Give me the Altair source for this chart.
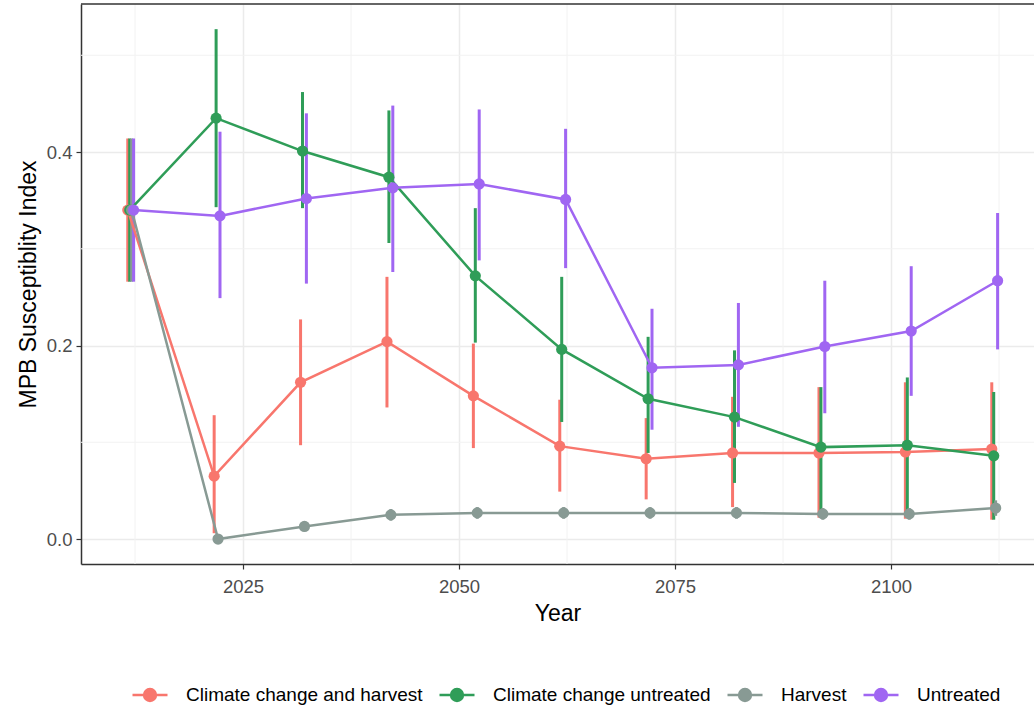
import altair as alt
import pandas as pd

# Simulation years and scenario names
years = [2012, 2022, 2032, 2042, 2052, 2062, 2072, 2082, 2092, 2102, 2112]
scenarios = ["Climate change and harvest", "Climate change untreated", "Harvest", "Untreated"]
colors = ["#F8766D", "#2F9D58", "#889A94", "#A066F2"]

# Mean MPB susceptibility index and its lower / upper bounds per scenario
cch_mean = [0.340, 0.065, 0.162, 0.204, 0.148, 0.096, 0.083, 0.089, 0.089, 0.090, 0.093]
cch_lo = [0.266, 0.006, 0.097, 0.136, 0.094, 0.049, 0.041, 0.033, 0.022, 0.021, 0.020]
cch_hi = [0.414, 0.128, 0.227, 0.271, 0.202, 0.144, 0.125, 0.147, 0.157, 0.162, 0.162]

ccu_mean = [0.340, 0.435, 0.401, 0.374, 0.272, 0.196, 0.145, 0.126, 0.095, 0.097, 0.086]
ccu_lo = [0.266, 0.343, 0.342, 0.306, 0.203, 0.121, 0.089, 0.058, 0.028, 0.023, 0.020]
ccu_hi = [0.414, 0.527, 0.462, 0.443, 0.342, 0.271, 0.209, 0.195, 0.157, 0.167, 0.152]

hv_mean = [0.340, 0.000, 0.013, 0.025, 0.027, 0.027, 0.027, 0.027, 0.026, 0.026, 0.032]
hv_lo = [0.266, 0.000, 0.008, 0.019, 0.021, 0.021, 0.021, 0.021, 0.020, 0.020, 0.024]
hv_hi = [0.414, 0.002, 0.018, 0.031, 0.033, 0.033, 0.033, 0.033, 0.032, 0.032, 0.040]

un_mean = [0.340, 0.334, 0.352, 0.363, 0.367, 0.351, 0.177, 0.180, 0.199, 0.215, 0.267]
un_lo = [0.266, 0.249, 0.264, 0.276, 0.288, 0.280, 0.113, 0.116, 0.130, 0.148, 0.196]
un_hi = [0.414, 0.421, 0.440, 0.448, 0.444, 0.424, 0.238, 0.244, 0.267, 0.282, 0.337]

# Grid positions
x_major = [2025, 2050, 2075, 2100]
x_minor = [2012.5, 2037.5, 2062.5, 2087.5, 2112.5]
y_major = [0.0, 0.2, 0.4]
y_minor = [0.1, 0.3, 0.5]

X_DOMAIN = [2006.25, 2116.55]
Y_DOMAIN = [-0.0258, 0.553]

# Dodge the scenarios slightly around each year
dodge = {scenarios[0]: -0.3375, scenarios[1]: -0.1125, scenarios[2]: 0.1125, scenarios[3]: 0.3375}

series = {
    scenarios[0]: (cch_mean, cch_lo, cch_hi),
    scenarios[1]: (ccu_mean, ccu_lo, ccu_hi),
    scenarios[2]: (hv_mean, hv_lo, hv_hi),
    scenarios[3]: (un_mean, un_lo, un_hi),
}
rows = []
for name, (m, lo, hi) in series.items():
    for yr, a, b, c in zip(years, m, lo, hi):
        rows.append({"Scenario": name, "Year": yr, "yx": yr + dodge[name],
                     "mean": a, "lo": b, "hi": c})
df = pd.DataFrame(rows)

xscale = alt.Scale(domain=X_DOMAIN, nice=False, zero=False)
yscale = alt.Scale(domain=Y_DOMAIN, nice=False, zero=False)

# Legend key: a short line with a filled dot (concentric rings fill the dot)
legend_symbol = ("M-1,0L1,0"
                 "M-0.34,0A0.34,0.34,0,1,1,0.34,0A0.34,0.34,0,1,1,-0.34,0Z"
                 "M-0.22,0A0.22,0.22,0,1,1,0.22,0A0.22,0.22,0,1,1,-0.22,0Z"
                 "M-0.1,0A0.1,0.1,0,1,1,0.1,0A0.1,0.1,0,1,1,-0.1,0Z")

color = alt.Color(
    "Scenario:N",
    scale=alt.Scale(domain=scenarios, range=colors),
    legend=alt.Legend(
        title=None, orient="none", direction="horizontal",
        legendX=50, legendY=672,
        symbolType=legend_symbol, symbolSize=1225, symbolStrokeWidth=2.5,
        labelFont="Liberation Sans", labelFontSize=19, labelColor="#000000",
        labelOffset=17, columnPadding=11, labelLimit=400,
    ),
)

base = alt.Chart(df)

minor_x = alt.Chart(pd.DataFrame({"v": x_minor})).mark_rule(
    color="#F2F2F2", strokeWidth=1
).encode(x=alt.X("v:Q", scale=xscale))
minor_y = alt.Chart(pd.DataFrame({"v": y_minor})).mark_rule(
    color="#F2F2F2", strokeWidth=1
).encode(y=alt.Y("v:Q", scale=yscale))

bars = base.mark_rule(strokeWidth=3).encode(
    x=alt.X("yx:Q", scale=xscale,
            axis=alt.Axis(values=x_major, format="d", title="Year")),
    y=alt.Y("lo:Q", scale=yscale,
            axis=alt.Axis(values=y_major, format=".1f", title="MPB Susceptiblity Index")),
    y2="hi:Q",
    color=color,
)

lines = base.mark_line(strokeWidth=2.5).encode(
    x=alt.X("yx:Q", scale=xscale),
    y=alt.Y("mean:Q", scale=yscale),
    color=color,
    detail="Scenario:N",
)

points = base.mark_circle(size=125, opacity=1).encode(
    x=alt.X("yx:Q", scale=xscale),
    y=alt.Y("mean:Q", scale=yscale),
    color=color,
)

top_border = alt.Chart(pd.DataFrame({"v": [Y_DOMAIN[1]]})).mark_rule(
    color="#333333", strokeWidth=1.5
).encode(y=alt.Y("v:Q", scale=yscale))

chart = alt.layer(minor_x, minor_y, bars, lines, points, top_border).properties(
    width=953, height=560,
    autosize=alt.AutoSizeParams(type="none"),
    padding={"left": 81, "top": 4, "right": 0, "bottom": 145},
).configure_view(stroke=None).configure_axis(
    labelFont="Liberation Sans", titleFont="Liberation Sans",
    labelColor="#4D4D4D", titleColor="#000000",
    labelFontSize=18.5, titleFontSize=23, titleFontWeight="normal",
    gridColor="#EBEBEB", gridWidth=1.5,
    domainColor="#333333", domainWidth=1.5,
    tickColor="#333333", tickWidth=1.2, tickSize=5,
).configure_axisX(
    titlePadding=7, labelPadding=8,
).configure_axisY(
    titlePadding=6, labelPadding=4,
)

chart.save("out.html", embed_options={"renderer": "svg", "actions": False})
